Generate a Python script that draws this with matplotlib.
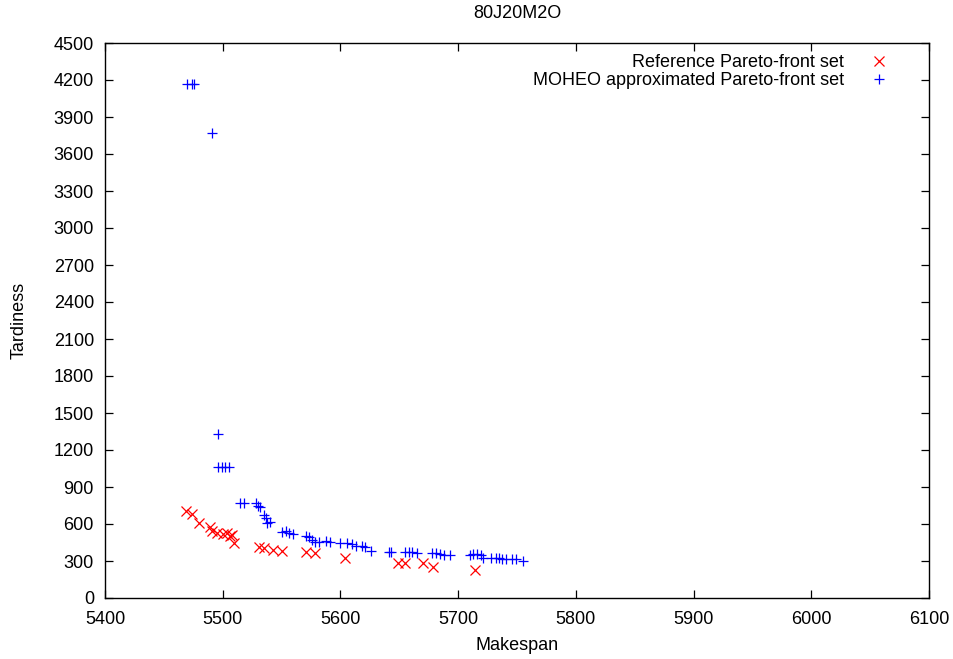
import matplotlib
matplotlib.use("Agg")
import matplotlib.pyplot as plt

plt.rcParams['font.family'] = ['Liberation Sans', 'DejaVu Sans']

title = "80J20M2O"
x_label = "Makespan"
y_label = "Tardiness"
ref_label = "Reference Pareto-front set"
moheo_label = "MOHEO approximated Pareto-front set"

x_ticks = [5400, 5500, 5600, 5700, 5800, 5900, 6000, 6100]
y_ticks = [0, 300, 600, 900, 1200, 1500, 1800, 2100, 2400, 2700,
           3000, 3300, 3600, 3900, 4200, 4500]

# Reference Pareto-front set
ref_makespan = [5469, 5474, 5480, 5489, 5491, 5495, 5500, 5504, 5506, 5508,
                5510, 5531, 5535, 5543, 5550, 5571, 5578, 5604, 5649, 5655,
                5670, 5679, 5714]
ref_tardiness = [708, 679, 606, 573, 546, 530, 519, 524, 503, 511,
                 443, 416, 403, 389, 384, 375, 362, 322, 286, 281,
                 281, 249, 227]

# MOHEO approximated Pareto-front set
moheo_makespan = [5470, 5474, 5476, 5491, 5496, 5496, 5499, 5502, 5505, 5515,
                  5518, 5528, 5530, 5532, 5535, 5537, 5538, 5540, 5550, 5554,
                  5556, 5560, 5571, 5573, 5576, 5578, 5582, 5588, 5591, 5600,
                  5606, 5610, 5613, 5618, 5621, 5626, 5641, 5643, 5655, 5658,
                  5661, 5665, 5678, 5681, 5685, 5688, 5693, 5710, 5713, 5716,
                  5719, 5721, 5728, 5732, 5735, 5737, 5741, 5746, 5749, 5755]
moheo_tardiness = [4168, 4168, 4168, 3773, 1327, 1065, 1065, 1065, 1065, 768,
                   768, 768, 746, 738, 673, 646, 611, 614, 538, 546,
                   530, 519, 503, 497, 470, 457, 457, 465, 457, 449,
                   443, 438, 422, 422, 416, 384, 370, 370, 375, 375,
                   375, 367, 367, 362, 354, 349, 349, 349, 357, 357,
                   349, 322, 322, 322, 322, 314, 314, 314, 314, 303]

W, H = 954, 659
FS = 13
fig = plt.figure(figsize=(W / 100, H / 100), dpi=100)
ax = fig.add_axes([105 / W, 1 - 598 / H, 824 / W, 555 / H])

ax.plot(ref_makespan, ref_tardiness, linestyle='none', marker='x',
        color='#ff0000', markersize=7, markeredgewidth=0.9, label=ref_label)
ax.plot(moheo_makespan, moheo_tardiness, linestyle='none', marker='+',
        color='#0000ff', markersize=7.5, markeredgewidth=0.9, label=moheo_label)

ax.set_xlim(x_ticks[0], x_ticks[-1])
ax.set_ylim(y_ticks[0], y_ticks[-1])
ax.set_xticks(x_ticks)
ax.set_yticks(y_ticks)
ax.tick_params(direction='in', length=6, width=0.9, top=True, right=True,
               labelsize=FS, colors='black')
ax.tick_params(axis='x', pad=9)
ax.tick_params(axis='y', pad=8)
for s in ax.spines.values():
    s.set_linewidth(1.0)

ax.set_xlabel(x_label, fontsize=FS, va='center')
ax.xaxis.set_label_coords(0.5, (598 - 645) / 555)
ax.set_ylabel(y_label, fontsize=FS, va='center')
ax.yaxis.set_label_coords((19 - 105) / 824, 0.5)
fig.text(517 / W, 1 - 14 / H, title, ha='center', va='center', fontsize=FS)

leg = ax.legend(loc='upper right', bbox_to_anchor=(888 / W, 1 - 54 / H),
                bbox_transform=fig.transFigure, frameon=False,
                markerfirst=False, fontsize=FS, handlelength=1.0,
                handletextpad=1.45, labelspacing=0.05, borderpad=0,
                borderaxespad=0)

fig.savefig("out.png", dpi=100)
